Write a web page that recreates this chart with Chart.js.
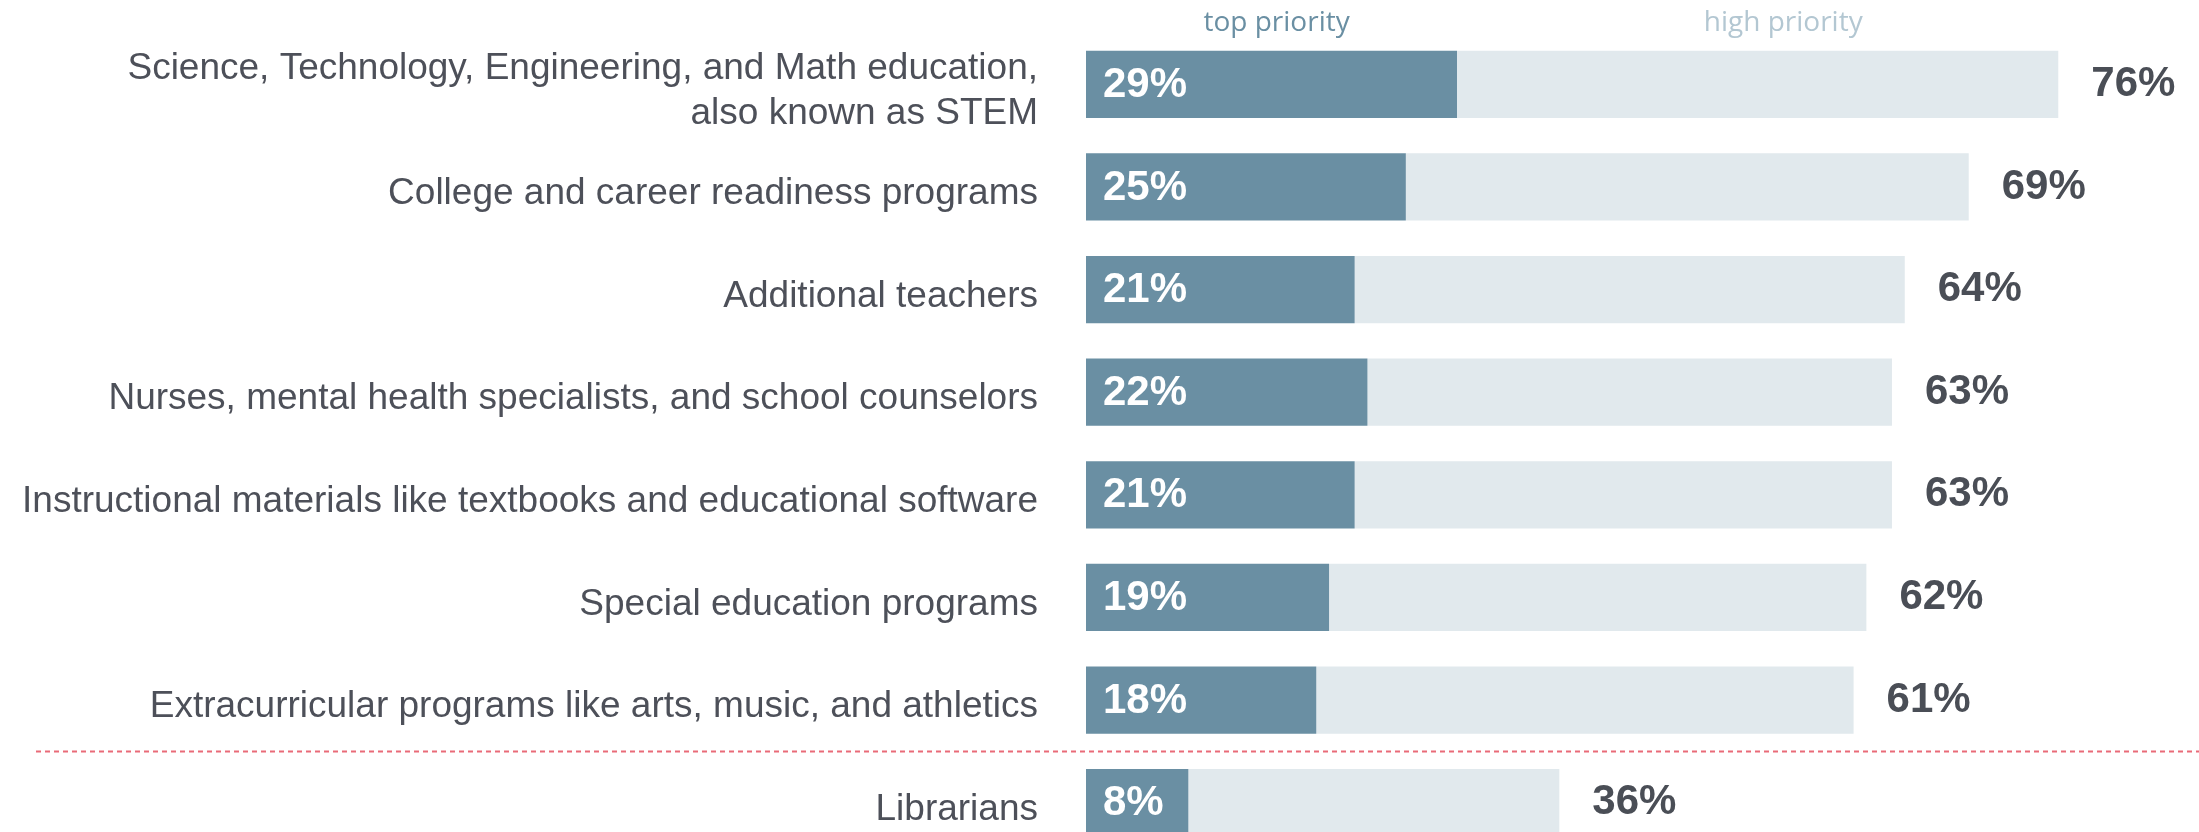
<!DOCTYPE html>
<html>
<head>
<meta charset="utf-8">
<script src="https://cdn.jsdelivr.net/npm/chart.js@4.4.1/dist/chart.umd.min.js"></script>
<style>
html,body{margin:0;padding:0;width:2199px;height:832px;overflow:hidden;background:#fff;}
canvas{display:block;}
</style>
</head>
<body>
<canvas id="c" width="2199" height="854" style="width:2199px;height:854px;"></canvas>
<script>
const categories = [
  ['Science, Technology, Engineering, and Math education,', 'also known as STEM'],
  'College and career readiness programs',
  'Additional teachers',
  'Nurses, mental health specialists, and school counselors',
  'Instructional materials like textbooks and educational software',
  'Special education programs',
  'Extracurricular programs like arts, music, and athletics',
  'Librarians'
];
const topPriority = [29, 25, 21, 22, 21, 19, 18, 8];
const highPriority = [47, 44, 43, 41, 42, 42, 42, 29];
const totalLabels = [76, 69, 64, 63, 63, 62, 61, 36];
const seriesNames = ['top priority', 'high priority'];

const TOP_COLOR = '#6a8fa3';
const HIGH_COLOR = '#e1e9ed';
const TEXT_COLOR = '#4d5059';

const labelsPlugin = {
  id: 'labelsPlugin',
  afterDatasetsDraw(chart) {
    const ctx = chart.ctx;
    const x = chart.scales.x;
    const y = chart.scales.y;
    ctx.save();
    ctx.font = 'bold 42px "Liberation Sans", Arial, sans-serif';
    ctx.textBaseline = 'middle';
    ctx.fillStyle = '#ffffff';
    ctx.textAlign = 'left';
    topPriority.forEach((v, i) => {
      ctx.fillText(v + '%', x.getPixelForValue(0) + 17, y.getPixelForValue(i) + 1);
    });
    ctx.fillStyle = '#4a4e56';
    totalLabels.forEach((v, i) => {
      const end = topPriority[i] + highPriority[i];
      ctx.fillText(v + '%', x.getPixelForValue(end) + 33, y.getPixelForValue(i));
    });
    ctx.font = '28px "Open Sans", "Noto Sans", sans-serif';
    ctx.textAlign = 'center';
    ctx.textBaseline = 'alphabetic';
    ctx.fillStyle = TOP_COLOR;
    ctx.fillText(seriesNames[0], x.getPixelForValue(14.9), 31);
    ctx.fillStyle = '#b3c7d2';
    ctx.fillText(seriesNames[1], x.getPixelForValue(54.5), 31);
    const sepY = (y.getPixelForValue(6) + y.getPixelForValue(7)) / 2;
    ctx.strokeStyle = '#e96b78';
    ctx.lineWidth = 2;
    ctx.setLineDash([5, 4]);
    ctx.beginPath();
    ctx.moveTo(36, sepY);
    ctx.lineTo(chart.width, sepY);
    ctx.stroke();
    ctx.restore();
  }
};

new Chart(document.getElementById('c'), {
  type: 'bar',
  data: {
    labels: categories,
    datasets: [
      { label: seriesNames[0], data: topPriority, backgroundColor: TOP_COLOR, categoryPercentage: 1, barPercentage: 0.655 },
      { label: seriesNames[1], data: highPriority, backgroundColor: HIGH_COLOR, categoryPercentage: 1, barPercentage: 0.655 }
    ]
  },
  options: {
    indexAxis: 'y',
    responsive: false,
    animation: false,
    devicePixelRatio: 1,
    layout: { padding: { top: 33, right: 0, bottom: 0, left: 0 } },
    plugins: { legend: { display: false }, tooltip: { enabled: false } },
    scales: {
      x: {
        stacked: true,
        min: 0, max: 87,
        display: false,
        grid: { display: false }
      },
      y: {
        stacked: true,
        offset: true,
        grid: { display: false, drawTicks: false },
        border: { display: false },
        ticks: {
          padding: 48,
          labelOffset: 7,
          color: TEXT_COLOR,
          font: { family: '"Liberation Sans", Arial, sans-serif', size: 37, lineHeight: 1.22 }
        },
        afterFit(scale) { scale.width = 1086; scale.paddingTop = 0; scale.paddingBottom = 0; }
      }
    }
  },
  plugins: [labelsPlugin]
});
</script>
</body>
</html>
